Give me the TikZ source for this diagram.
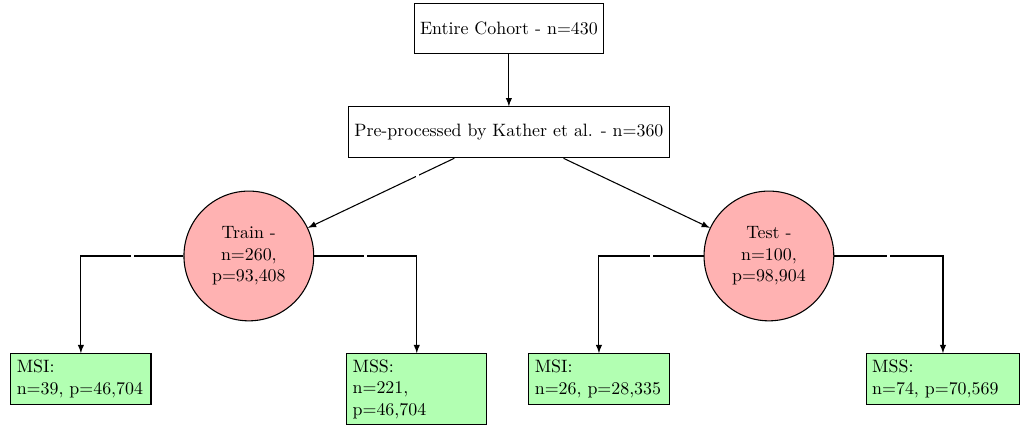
\documentclass[tikz,border=0pt]{standalone}
\begin{document}
\begin{tikzpicture}[semithick,
		boite/.style={draw, fill=white, minimum height=1cm},
		cercle/.style={draw, circle, fill=red!30, minimum size=2.55cm, align=center},
		feuille/.style={draw, fill=green!30, minimum height=1cm, align=left, anchor=north},
		coupure/.style={fill=white, inner sep=0pt, minimum size=1.5pt}
	]
		\useasboundingbox (-10,0.56) rectangle (10.26,-7.85);
		
		% Création des nœuds
		\node[boite] (A) at (0,0) {Entire Cohort - n=430};
		\node[boite] (B) at (0,-2.04) {Pre-processed by Kather et al. - n=360};
		\node[cercle] (C) at (-5.11,-4.47) {Train -\\n=260,\\p=93,408};
		\node[cercle] (D) at (5.11,-4.47) {Test -\\n=100,\\p=98,904};
		\node[feuille, text width=2.52cm] (E) at (-8.41,-6.38) {MSI:\\n=39, p=46,704};
		\node[feuille, text width=2.52cm] (F) at (-1.81,-6.38) {MSS:\\n=221,\\p=46,704};
		\node[feuille, text width=2.52cm] (G) at (1.77,-6.38) {MSI:\\n=26, p=28,335};
		\node[feuille, text width=2.78cm] (H) at (8.53,-6.38) {MSS:\\n=74, p=70,569};
		
		% Dessin des flèches
		\draw[->, >=latex] (A) -- (B);
		\draw[->, >=latex] (B) -- node[coupure, pos=0.25] (cBC) {} (C);
		\draw[->, >=latex] (B) -- (D);
		\draw[->, >=latex] (C) -| node[coupure, pos=0.25] (cCE) {} (E);
		\draw[->, >=latex] (C) -| node[coupure, pos=0.25] (cCF) {} (F);
		\draw[->, >=latex] (D) -| node[coupure, pos=0.25] (cDG) {} (G);
		\draw[->, >=latex] (D) -| node[coupure, pos=0.25] (cDH) {} (H);
	\end{tikzpicture}
\end{document}
